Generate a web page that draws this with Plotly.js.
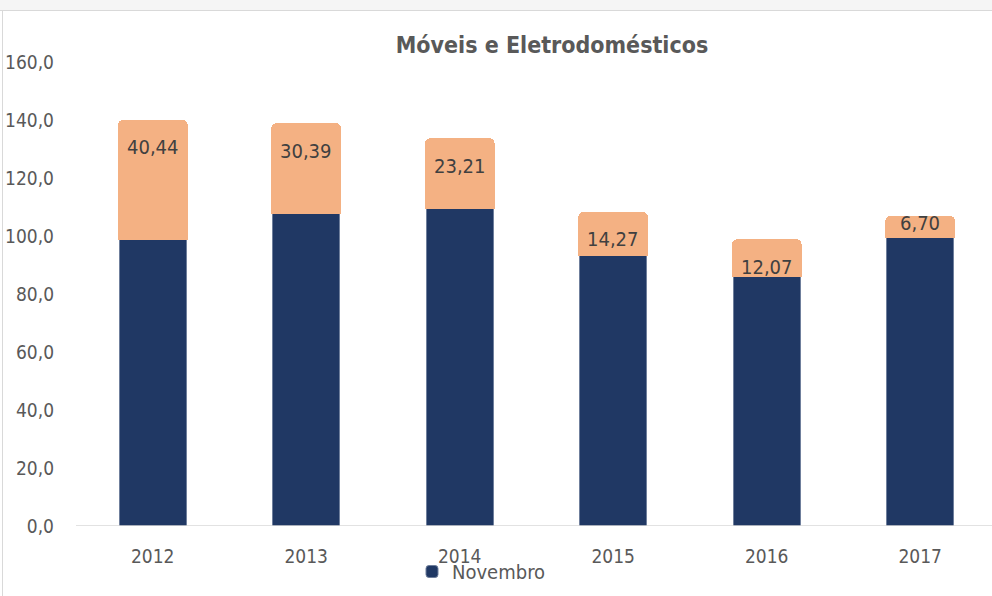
<!DOCTYPE html>
<html><head><meta charset="utf-8">
<script src="https://cdn.plot.ly/plotly-3.0.1.min.js"></script>
<style>html,body{margin:0;padding:0;background:#fff;overflow:hidden}#chart{width:992px;height:596px}</style>
</head><body><div id="chart"></div><script>
const years = ['2012','2013','2014','2015','2016','2017'];
const novembro = [99.1, 108.0, 110.0, 93.5, 86.3, 99.7];
const diferenca = [40.44, 30.39, 23.21, 14.27, 12.07, 6.70];
const diffLabels = ['40,44','30,39','23,21','14,27','12,07','6,70'];
const yTicks = [0,20,40,60,80,100,120,140,160];
const yTickLabels = ['0,0','20,0','40,0','60,0','80,0','100,0','120,0','140,0','160,0'];
const titleText = 'Móveis e Eletrodomésticos';
const legendName = 'Novembro';

const FONT = '"DejaVu Sans Condensed", "DejaVu Sans", sans-serif';
const W = 992, H = 596, ML = 76, MR = 0, MT = 62, MB = 70;
const PW = W - ML - MR, PH = H - MT - MB;
const px2x = p => (p - ML) / PW;
const px2y = p => (H - MB - p) / PH;

const totals = novembro.map((v, i) => v + diferenca[i]);

const traces = [
  {type:'bar', x: years, y: novembro, name: legendName,
   marker:{color:'#203864', line:{color:'#6f7f9c', width:1}}, hoverinfo:'skip'},
  {type:'bar', x: years, y: diferenca, name: 'Diferença', showlegend:false,
   marker:{color:'#F4B183', line:{color:'#F4B183', width:3}}, hoverinfo:'skip'}
];

const annotations = years.map((yr, i) => ({
  x: i, y: totals[i], xref:'x', yref:'y', text: diffLabels[i], showarrow:false,
  yanchor:'middle', yshift: diferenca[i] > 10 ? -26 : -6,
  font:{family: FONT, size: 20, color:'#404040'}
}));

const shapes = [
  {type:'rect', xref:'paper', yref:'paper', x0:px2x(0), x1:px2x(W), y0:px2y(0), y1:px2y(10),
   fillcolor:'#f5f5f5', line:{width:0}, layer:'below'},
  {type:'line', xref:'paper', yref:'paper', x0:px2x(0), x1:px2x(W), y0:px2y(10.5), y1:px2y(10.5),
   line:{color:'#d9d9d9', width:1}},
  {type:'line', xref:'paper', yref:'paper', x0:px2x(2.5), x1:px2x(2.5), y0:px2y(10.5), y1:px2y(H),
   line:{color:'#d9d9d9', width:1}},
  {type:'line', xref:'paper', yref:'y', x0:0, x1:1, y0:0, y1:0,
   line:{color:'#d9d9d9', width:1.5}, layer:'above'}
];

const layout = {
  width: W, height: H,
  margin:{l:ML, r:MR, t:MT, b:MB, pad:0, autoexpand:false},
  paper_bgcolor:'#ffffff', plot_bgcolor:'#ffffff',
  barmode:'stack', bargap:0.564, barcornerradius:4,
  title:{text:'<b>'+titleText+'</b>', x:552/W, xanchor:'center',
         y:1 - 45/H, yanchor:'middle', font:{family:FONT, size:23, color:'#595959'}},
  xaxis:{type:'category', range:[-0.5, -0.5 + PW/153.5], showgrid:false, zeroline:false,
         showline:false, ticks:'', ticklabelstandoff:17,
         tickfont:{family:FONT, size:19, color:'#595959'}, fixedrange:true},
  yaxis:{range:[0,160], tickvals:yTicks, ticktext:yTickLabels, showgrid:false, zeroline:false,
         showline:false, ticks:'', ticklabelstandoff:21,
         tickfont:{family:FONT, size:19, color:'#595959'}, fixedrange:true},
  showlegend:true,
  legend:{orientation:'h', x:px2x(412), xanchor:'left', y:px2y(552), yanchor:'top',
          font:{family:FONT, size:20, color:'#595959'}, bgcolor:'rgba(0,0,0,0)',
          itemwidth:30, tracegroupgap:0},
  annotations, shapes
};

Plotly.newPlot('chart', traces, layout, {staticPlot:true, displayModeBar:false});
</script></body></html>
